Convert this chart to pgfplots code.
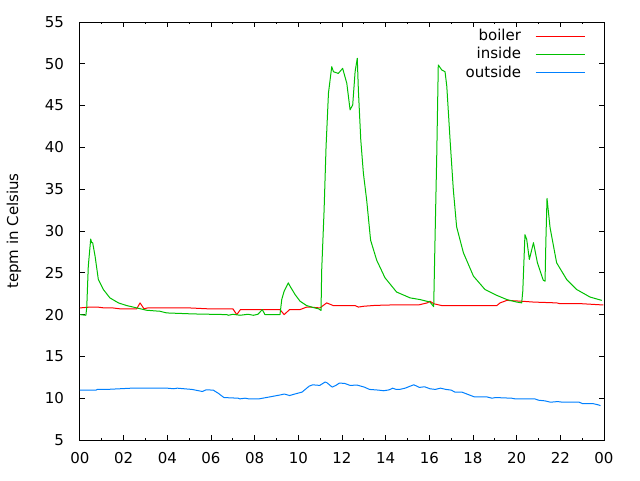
\documentclass[border=0pt]{standalone}
\usepackage{fontspec}
\setmainfont{DejaVu Sans}
\usepackage{pgfplots}
\pgfplotsset{compat=1.18}
\newcommand\gf{\fontsize{11.25pt}{13.5pt}\selectfont}
\definecolor{gpred}{RGB}{255,0,0}
\definecolor{gpgreen}{RGB}{0,192,0}
\definecolor{gpblue}{RGB}{0,128,255}
\begin{document}
\begin{tikzpicture}
\useasboundingbox (0,0) rectangle (480pt,360pt);
\begin{axis}[
  at={(60pt,30pt)}, anchor=south west,
  scale only axis, width=393pt, height=313.5pt,
  xmin=0, xmax=24, ymin=5, ymax=55,
  xtick={0,2,...,24},
  xticklabels={00,02,04,06,08,10,12,14,16,18,20,22,00},
  minor x tick num=1,
  ytick={5,10,...,55},
  tick align=inside,
  major tick length=3.4pt, minor tick length=1.6pt,
  axis line style={line width=0.75pt},
  every tick/.style={line width=0.75pt, black},
  /pgf/number format/assume math mode=true,
  tick label style={font=\gf},
  xticklabel style={yshift=-6pt},
  yticklabel style={xshift=-8.5pt},
  ylabel={tepm in Celsius},
  ylabel style={font=\gf, at={(axis description cs:0,0.5)}, anchor=center, rotate=0, xshift=0pt, yshift=49.5pt},
  legend plot pos=right,
  legend cell align=right,
  legend image code/.code={\draw[#1] (0pt,0pt) -- (36.75pt,0pt);},
  legend style={draw=none, fill=none, font=\gf, at={(1,1)}, anchor=north east,
    xshift=-14.25pt, yshift=-3.9pt, inner sep=0pt, outer sep=0pt,
    row sep=0pt, column sep=10.5pt,
    nodes={inner sep=0pt, text height=10pt, text depth=3.7pt}},
  every axis plot/.append style={line width=0.75pt, line join=round},
]
\addplot[gpred] coordinates {
(0,20.8) (0.46,20.9) (0.8,20.9) (1.1,20.8) (1.5,20.8) (1.8,20.7) (2.6,20.7) (2.75,21.4) (2.93,20.7)
(3.1,20.8) (4.0,20.8) (5.0,20.8) (5.8,20.7) (7.0,20.7) (7.18,20.0) (7.35,20.6) (8.0,20.6) (9.16,20.6)
(9.35,20.0) (9.6,20.6) (10.08,20.6) (10.38,20.9) (10.53,20.9) (10.99,20.8) (11.3,21.4) (11.6,21.08)
(12.6,21.08) (12.75,20.9) (13.0,21.0) (13.5,21.1) (14.2,21.15) (15.0,21.15) (15.5,21.15) (15.9,21.4)
(16.03,21.6) (16.2,21.3) (16.57,21.08) (19.09,21.08) (19.24,21.4) (19.55,21.7) (20.23,21.6) (20.77,21.5)
(21.83,21.4) (22.0,21.3) (23.0,21.3) (23.97,21.15)
};
\addlegendentry{boiler}
\addplot[gpgreen] coordinates {
(0,20.0) (0.27,19.92) (0.31,20.9) (0.38,25.8) (0.49,29.04) (0.535,28.6) (0.58,28.6) (0.69,27.0)
(0.84,24.2) (1.07,23.0) (1.37,22.0) (1.76,21.4) (2.14,21.08) (2.6,20.8) (3.05,20.52) (3.66,20.4)
(3.97,20.2) (5.19,20.08) (6.72,20.0) (6.8,19.92) (7.0,20.04) (7.33,19.92) (7.7,20.04) (7.94,19.92)
(8.15,20.04) (8.35,20.6) (8.47,20.0) (9.16,20.0) (9.24,21.8) (9.35,22.8) (9.54,23.8) (9.62,23.4)
(9.85,22.4) (10.08,21.6) (10.38,21.08) (10.69,20.84) (10.92,20.7) (11.04,20.5) (11.07,25.3)
(11.18,32.5) (11.27,40.1) (11.38,46.5) (11.53,49.65) (11.61,49.05) (11.83,48.85) (12.03,49.45)
(12.22,47.66) (12.37,44.5) (12.49,45.07) (12.6,49.05) (12.7,50.66) (12.75,46.87) (12.86,40.9)
(12.98,36.9) (13.13,33.7) (13.31,28.9) (13.59,26.5) (13.97,24.4) (14.5,22.7) (15.12,22.0)
(15.57,21.8) (16.03,21.5) (16.2,20.95) (16.26,28.9) (16.34,39.1) (16.41,49.86) (16.57,49.26)
(16.72,49.05) (16.8,47.3) (16.95,40.9) (17.1,34.9) (17.25,30.5) (17.37,29.3) (17.56,27.4)
(18.02,24.6) (18.55,23.0) (19.09,22.3) (19.55,21.8) (20.0,21.5) (20.23,21.4) (20.28,22.8)
(20.38,29.56) (20.46,29.0) (20.58,26.6) (20.77,28.6) (20.95,26.2) (21.22,24.1) (21.3,24.0)
(21.34,29.0) (21.39,33.9) (21.53,30.4) (21.83,26.2) (22.29,24.2) (22.75,23.0) (23.36,22.1) (23.9,21.7)
};
\addlegendentry{inside}
\addplot[gpblue] coordinates {
(0,10.97) (0.73,10.97) (0.8,11.05) (1.22,11.05) (2.36,11.2) (3.99,11.2) (4.3,11.13) (4.45,11.2)
(5.13,11.05) (5.61,10.8) (5.77,11.0) (6.1,10.97) (6.35,10.56) (6.59,10.08) (7.24,10.0) (7.32,9.92)
(7.56,10.0) (7.73,9.92) (8.2,9.92) (8.7,10.16) (9.19,10.4) (9.36,10.5) (9.6,10.32) (9.84,10.5)
(10.17,10.73) (10.5,11.45) (10.66,11.6) (10.98,11.53) (11.23,11.94) (11.31,11.85) (11.55,11.33)
(11.72,11.53) (11.88,11.81) (12.12,11.77) (12.37,11.53) (12.69,11.57) (13.02,11.33) (13.26,11.05)
(13.67,10.97) (13.91,10.89) (14.16,11.0) (14.32,11.2) (14.48,11.05) (14.64,11.05) (14.89,11.2)
(15.21,11.53) (15.29,11.61) (15.54,11.29) (15.78,11.37) (16.03,11.13) (16.27,11.05) (16.51,11.2)
(16.76,11.05) (17.0,10.97) (17.17,10.73) (17.49,10.73) (17.82,10.4) (18.06,10.16) (18.63,10.16)
(18.87,10.0) (19.03,10.08) (19.77,10.0) (19.93,9.92) (20.83,9.92) (21.0,9.76) (21.3,9.68)
(21.55,9.52) (21.88,9.6) (22.1,9.52) (22.86,9.52) (23.02,9.35) (23.5,9.35) (23.76,9.19) (23.84,9.1)
};
\addlegendentry{outside}
\end{axis}
\end{tikzpicture}
\end{document}
